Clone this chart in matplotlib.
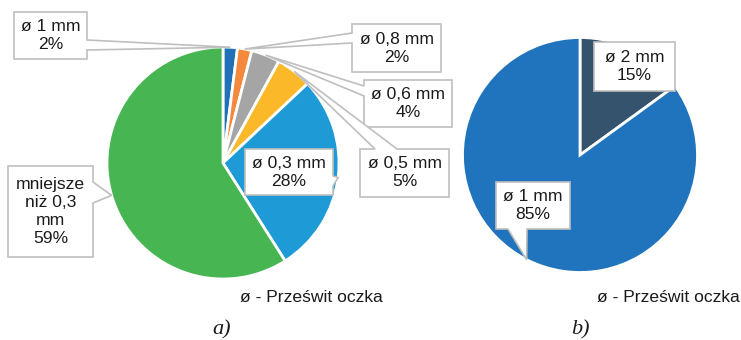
import numpy as np
import matplotlib
matplotlib.use("Agg")
import matplotlib.pyplot as plt
from matplotlib.patches import Polygon

# Chart a) – sieve fractions
labels_a = ["ø 1 mm", "ø 0,8 mm", "ø 0,6 mm", "ø 0,5 mm", "ø 0,3 mm", "mniejsze\nniż 0,3\nmm"]
values_a = [2, 2, 4, 5, 28, 59]
colors_a = ["#2071B8", "#F4883C", "#A5A5A5", "#FBB829", "#1E9AD7", "#47B552"]

# Chart b)
labels_b = ["ø 2 mm", "ø 1 mm"]
values_b = [15, 85]
colors_b = ["#36536E", "#1F74BD"]

W, H = 741, 340
fig = plt.figure(figsize=(W / 100, H / 100), dpi=100)
ax = fig.add_axes([0, 0, 1, 1])

FONT = "Liberation Sans"
FS = 12.6
EDGE = "#BFBFBF"


def Y(y):
    """Convert a top-origin pixel row to the axes' y coordinate."""
    return H - y


def wedge_tip(center, radius, values, i):
    """Point on the rim at the middle angle of slice i (clockwise from 12 o'clock)."""
    total = float(sum(values))
    start = sum(values[:i]) / total * 360.0
    mid = start + values[i] / total * 180.0
    ang = np.deg2rad(90.0 - mid)
    return center[0] + radius * np.cos(ang), center[1] + radius * np.sin(ang)


def callout(box, side, a, b, tip, text):
    x0, y0, x1, y1 = box  # top-origin pixel box
    tx, ty = tip[0], H - tip[1]  # back to top-origin
    pts = [(x0, y0)]
    if side == "top":
        pts += [(a, y0), (tx, ty), (b, y0)]
    pts += [(x1, y0)]
    if side == "right":
        pts += [(x1, a), (tx, ty), (x1, b)]
    pts += [(x1, y1)]
    if side == "bottom":
        pts += [(b, y1), (tx, ty), (a, y1)]
    pts += [(x0, y1)]
    if side == "left":
        pts += [(x0, b), (tx, ty), (x0, a)]
    poly = Polygon([(px, Y(py)) for px, py in pts], closed=True,
                   facecolor="white", edgecolor=EDGE, linewidth=1.2, zorder=5)
    ax.add_patch(poly)
    ax.text((x0 + x1) / 2, Y((y0 + y1) / 2), text, ha="center", va="center",
            fontsize=FS, family=FONT, color="#1a1a1a", linespacing=1.25, zorder=6)


# --- pie a)
ca, ra = (223, Y(163)), 116
ax.pie(values_a, colors=colors_a, startangle=90, counterclock=False,
       center=ca, radius=ra,
       wedgeprops=dict(edgecolor="white", linewidth=2.0))

# --- pie b)
cb, rb = (580, Y(155)), 117.5
ax.pie(values_b, colors=colors_b, startangle=90, counterclock=False,
       center=cb, radius=rb,
       wedgeprops=dict(edgecolor="white", linewidth=2.0))

pct_a = [f"{v}%" for v in values_a]
pct_b = [f"{v}%" for v in values_b]

# callouts for a)
callout((14, 12, 87, 59), "right", 40, 50, wedge_tip(ca, ra, values_a, 0),
        f"{labels_a[0]}\n{pct_a[0]}")
callout((352, 24, 441, 72), "left", 33, 43, wedge_tip(ca, ra, values_a, 1),
        f"{labels_a[1]}\n{pct_a[1]}")
callout((364, 80, 452, 127), "left", 86, 96, wedge_tip(ca, ra, values_a, 2),
        f"{labels_a[2]}\n{pct_a[2]}")
callout((360, 149, 449, 197), "top", 375, 397, wedge_tip(ca, ra, values_a, 3),
        f"{labels_a[3]}\n{pct_a[3]}")
callout((245, 149, 333, 195), "right", 176, 186, wedge_tip(ca, ra, values_a, 4),
        f"{labels_a[4]}\n{pct_a[4]}")
callout((8, 166, 93, 257), "right", 182, 203, wedge_tip(ca, ra, values_a, 5),
        f"{labels_a[5]}\n{pct_a[5]}")

# callouts for b)
callout((594, 42, 675, 91), None, 0, 0, wedge_tip(cb, rb, values_b, 0),
        f"{labels_b[0]}\n{pct_b[0]}")
callout((496, 182, 570, 229), "bottom", 508, 527, wedge_tip(cb, rb, values_b, 1),
        f"{labels_b[1]}\n{pct_b[1]}")

# legend notes
for x in (240, 597):
    ax.text(x, Y(297), "ø - Prześwit oczka", ha="left", va="center",
            fontsize=FS, family=FONT, color="#1a1a1a")

# panel captions
for x, s in ((222, "a)"), (580, "b)")):
    ax.text(x, Y(330), s, ha="center", va="center", fontsize=16,
            family="Liberation Serif", style="italic", color="#1a1a1a")

ax.set_xlim(0, W)
ax.set_ylim(0, H)
ax.set_aspect("auto")
ax.axis("off")
fig.savefig("out.png", dpi=100, facecolor="white")
